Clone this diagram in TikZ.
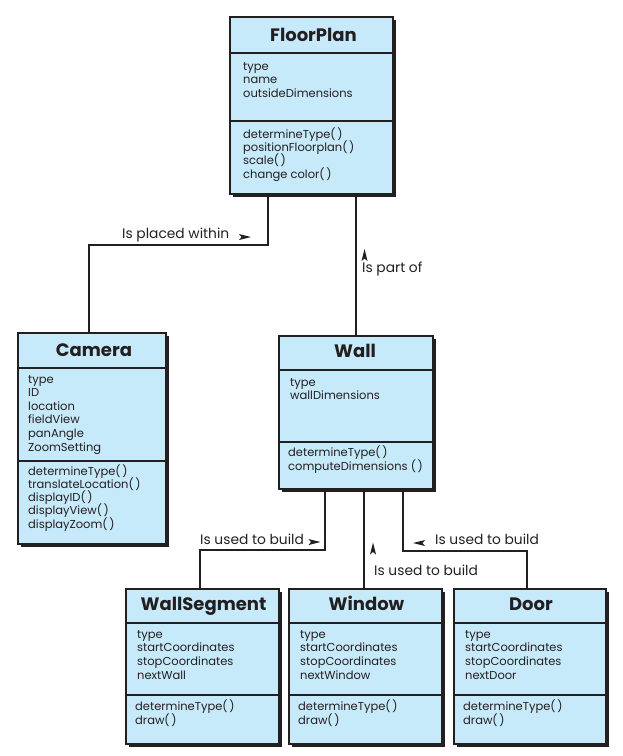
\documentclass[tikz,border=0pt]{standalone}
\usepackage{fontspec}
\setmainfont{Poppins}
\usetikzlibrary{shadows,calc}
\definecolor{boxblue}{RGB}{199,234,251}
\definecolor{ink}{RGB}{35,31,32}
\tikzset{
  classbox/.style={draw=ink, line width=1.7pt, fill=boxblue, anchor=north west, inner sep=0pt,
    drop shadow={shadow xshift=3pt, shadow yshift=-3pt, fill=ink, opacity=1}},
  divider/.style={draw=ink, line width=1.4pt},
  titletxt/.style={anchor=base, inner sep=0pt, text=ink, font=\fontsize{18}{20}\selectfont\bfseries},
  attr/.style={anchor=base west, inner sep=0pt, text=ink, font=\fontsize{11.5}{13}\selectfont},
  lbl/.style={anchor=base west, inner sep=0pt, text=ink, font=\fontsize{13.8}{15}\selectfont},
  conn/.style={draw=ink, line width=1.3pt},
  tip/.style={fill=ink}
}
\newcommand\pp{(\hspace{1.6pt})}
\newcommand\tipR[2]{\fill[tip] (#1-6,#2-3) -- (#1+6,#2) -- (#1-6,#2+3) -- (#1-3.5,#2) -- cycle;}
\newcommand\tipL[2]{\fill[tip] (#1+6,#2-3) -- (#1-6,#2) -- (#1+6,#2+3) -- (#1+3.5,#2) -- cycle;}
\newcommand\tipU[2]{\fill[tip] (#1-3,#2+6) -- (#1,#2-6) -- (#1+3,#2+6) -- (#1,#2+3.5) -- cycle;}
\begin{document}
\begin{tikzpicture}[x=1pt,y=-1pt]
\useasboundingbox (0,0) rectangle (623,756);

% ---------- FloorPlan ----------
\node[classbox, minimum width=163pt, minimum height=177pt] (fp) at (229,16) {};
\draw[divider] ($(fp.north west)+(0,37)$) -- ($(fp.north east)+(0,37)$);
\draw[divider] ($(fp.north west)+(0,105)$) -- ($(fp.north east)+(0,105)$);
\node[titletxt] (fpt) at (313.5,41.5) {FloorPlan};
\foreach \s [count=\i] in {type,name,outsideDimensions}
  \node[attr] (fpa\i) at (243,{70+(\i-1)*13.5}) {\s};
\foreach \s [count=\i] in {determineType\pp,positionFloorplan\pp,scale\pp,change color\pp}
  \node[attr] (fpm\i) at (243,{138+(\i-1)*13.4}) {\s};

% ---------- Camera ----------
\node[classbox, minimum width=148pt, minimum height=211pt] (cam) at (17,332) {};
\draw[divider] ($(cam.north west)+(0,36)$) -- ($(cam.north east)+(0,36)$);
\draw[divider] ($(cam.north west)+(0,129)$) -- ($(cam.north east)+(0,129)$);
\node[titletxt] (camt) at (94,356.5) {Camera};
\foreach \s [count=\i] in {type,ID,location,fieldView,panAngle,ZoomSetting}
  \node[attr] (cama\i) at (28,{383+(\i-1)*13.6}) {\s};
\foreach \s [count=\i] in {determineType\pp,translateLocation\pp,displayID\pp,displayView\pp,displayZoom\pp}
  \node[attr] (camm\i) at (28,{475+(\i-1)*13.3}) {\s};

% ---------- Wall ----------
\node[classbox, minimum width=154pt, minimum height=153pt] (wall) at (278,335) {};
\draw[divider] ($(wall.north west)+(0,35)$) -- ($(wall.north east)+(0,35)$);
\draw[divider] ($(wall.north west)+(0,107)$) -- ($(wall.north east)+(0,107)$);
\node[titletxt] (wallt) at (355,357.5) {Wall};
\foreach \s [count=\i] in {type,wallDimensions}
  \node[attr] (walla\i) at (290,{386+(\i-1)*13.6}) {\s};
\foreach \s [count=\i] in {determineType\pp,computeDimensions \pp}
  \node[attr] (wallm\i) at (288,{456+(\i-1)*14}) {\s};

% ---------- WallSegment ----------
\node[classbox, minimum width=153pt, minimum height=155pt] (ws) at (125,588) {};
\draw[divider] ($(ws.north west)+(0,35)$) -- ($(ws.north east)+(0,35)$);
\draw[divider] ($(ws.north west)+(0,107)$) -- ($(ws.north east)+(0,107)$);
\node[titletxt] (wst) at (203.5,610.5) {WallSegment};
\foreach \s [count=\i] in {type,startCoordinates,stopCoordinates,nextWall}
  \node[attr] (wsa\i) at (137,{638+(\i-1)*13.7}) {\s};
\foreach \s [count=\i] in {determineType\pp,draw\pp}
  \node[attr] (wsm\i) at (135,{710+(\i-1)*14}) {\s};

% ---------- Window ----------
\node[classbox, minimum width=153pt, minimum height=155pt] (win) at (288,588) {};
\draw[divider] ($(win.north west)+(0,35)$) -- ($(win.north east)+(0,35)$);
\draw[divider] ($(win.north west)+(0,107)$) -- ($(win.north east)+(0,107)$);
\node[titletxt] (wint) at (366.5,610.5) {Window};
\foreach \s [count=\i] in {type,startCoordinates,stopCoordinates,nextWindow}
  \node[attr] (wina\i) at (300,{638+(\i-1)*13.7}) {\s};
\foreach \s [count=\i] in {determineType\pp,draw\pp}
  \node[attr] (winm\i) at (298,{710+(\i-1)*14}) {\s};

% ---------- Door ----------
\node[classbox, minimum width=152pt, minimum height=155pt] (door) at (453,588) {};
\draw[divider] ($(door.north west)+(0,35)$) -- ($(door.north east)+(0,35)$);
\draw[divider] ($(door.north west)+(0,107)$) -- ($(door.north east)+(0,107)$);
\node[titletxt] (doort) at (531,610.5) {Door};
\foreach \s [count=\i] in {type,startCoordinates,stopCoordinates,nextDoor}
  \node[attr] (doora\i) at (465,{638+(\i-1)*13.7}) {\s};
\foreach \s [count=\i] in {determineType\pp,draw\pp}
  \node[attr] (doorm\i) at (463,{710+(\i-1)*14}) {\s};

% ---------- connectors ----------
\coordinate (j1) at (268,245);
\draw[conn] ($(fp.south west)+(39,0)$) -- (j1) -| ($(cam.north west)+(72,0)$);
\draw[conn] ($(fp.south west)+(127,0)$) -- ($(wall.north west)+(78,0)$);
\coordinate (j2) at (325,550);
\draw[conn] ($(wall.south west)+(47,0)$) -- (j2) -| ($(ws.north west)+(75,0)$);
\draw[conn] ($(wall.south west)+(86,0)$) -- ($(win.north west)+(76,0)$);
\coordinate (j3) at (403,551);
\draw[conn] ($(wall.south west)+(125,0)$) -- (j3) -| ($(door.north west)+(74,0)$);

% ---------- labels ----------
\node[lbl] (l1) at (122,238) {Is placed within};
\tipR{245}{237}
\node[lbl] (l2) at (362,272) {Is part of};
\tipU{364.5}{255}
\node[lbl] (l3) at (200,544) {Is used to build};
\tipR{314.5}{542}
\node[lbl] (l4) at (374,575) {Is used to build};
\tipU{373}{548.5}
\node[lbl] (l5) at (435,544) {Is used to build};
\tipL{419}{543}
\end{tikzpicture}
\end{document}
